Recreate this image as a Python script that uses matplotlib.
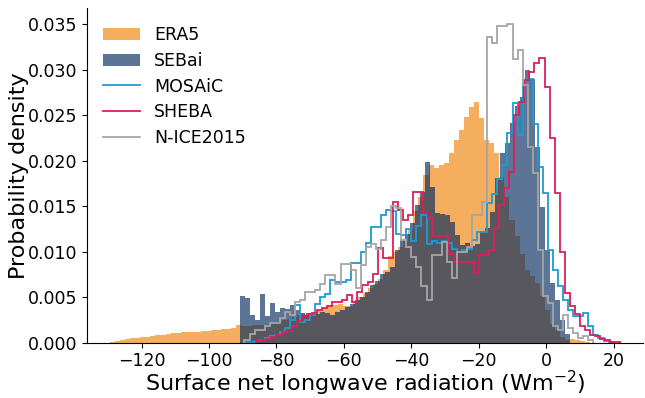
import numpy as np
import matplotlib
matplotlib.use("Agg")
import matplotlib.pyplot as plt

# ---------------- data (probability density per bin) ----------------
bin_width = 1.5

era5_start = -129.4
era5 = [0.0001, 0.0002, 0.0003, 0.0004, 0.0005, 0.00055, 0.0006, 0.00068, 0.00075, 0.00085,
        0.0009, 0.00098, 0.00105, 0.0011, 0.00115, 0.00118, 0.0012, 0.00122, 0.00128, 0.0013,
        0.00135, 0.00145, 0.0015, 0.00155, 0.0016, 0.0019, 0.0018, 0.0018, 0.0019, 0.0019,
        0.0020, 0.0021, 0.0022, 0.0023, 0.0025, 0.0026, 0.0028, 0.0030, 0.0031, 0.0033,
        0.0034, 0.0036, 0.0038, 0.0040, 0.0041, 0.0043, 0.0040, 0.0040, 0.0046, 0.0050,
        0.0055, 0.0060, 0.0065, 0.0070, 0.0080, 0.0095, 0.0100, 0.0105, 0.0112, 0.0125,
        0.0145, 0.0160, 0.0184, 0.0195, 0.0192, 0.0195, 0.0198, 0.0208, 0.0223, 0.0234,
        0.0248, 0.0259, 0.0265, 0.0247, 0.0223, 0.0220, 0.0208, 0.0182, 0.0160, 0.0135,
        0.0117, 0.0098, 0.0080, 0.0073, 0.0066, 0.0051, 0.0036, 0.0021, 0.0014, 0.0006,
        0.0003, 0.0004, 0.0003, 0.0002, 0.0001]

sebai_start = -90.8
sebai_width = 1.482
sebai = [0.0051, 0.0049, 0.0030, 0.0025, 0.0053, 0.0029, 0.0044, 0.0034, 0.0038, 0.0037,
         0.0041, 0.0036, 0.0033, 0.0030, 0.0032, 0.0031, 0.0034, 0.0033, 0.0030, 0.0034,
         0.0036, 0.0039, 0.0042, 0.0047, 0.0050, 0.0056, 0.0063, 0.0068, 0.0076, 0.0078,
         0.0083, 0.0102, 0.0113, 0.0120, 0.0131, 0.0151, 0.0166, 0.0199, 0.0171, 0.0142,
         0.0141, 0.0140, 0.0133, 0.0118, 0.0107, 0.0110, 0.0106, 0.0108, 0.0122, 0.0126,
         0.0144, 0.0181, 0.0208, 0.0220, 0.0241, 0.0260, 0.0270, 0.0300, 0.0290, 0.0215,
         0.0149, 0.0102, 0.0066, 0.0047, 0.0025, 0.0010]

mosaic_start = -89.5
mosaic = [0.0001, 0.0001, 0.0002, 0.0003, 0.0005, 0.0007, 0.0009, 0.0012, 0.0016, 0.0025,
          0.0041, 0.0023, 0.0025, 0.0030, 0.0042, 0.0050, 0.0054, 0.0069, 0.0067, 0.0067,
          0.0069, 0.0088, 0.0088, 0.0100, 0.0110, 0.0127, 0.0127, 0.0140, 0.0146, 0.0145,
          0.0120, 0.0118, 0.0125, 0.0112, 0.0128, 0.0140, 0.0108, 0.0112, 0.0110, 0.0112,
          0.0110, 0.0103, 0.0100, 0.0102, 0.0103, 0.0113, 0.0122, 0.0122, 0.0153, 0.0163,
          0.0180, 0.0195, 0.0230, 0.0263, 0.0228, 0.0285, 0.0290, 0.0240, 0.0193, 0.0165,
          0.0102, 0.0080, 0.0062, 0.0047, 0.0036, 0.0029, 0.0029, 0.0033, 0.0018, 0.0009,
          0.0005, 0.0002, 0.0001]

sheba_start = -86.0
sheba = [0.0002, 0.0003, 0.0004, 0.0006, 0.0009, 0.0012, 0.0014, 0.0018, 0.0024, 0.0029,
         0.0031, 0.0033, 0.0036, 0.0038, 0.0040, 0.0045, 0.0045, 0.0047, 0.0052, 0.0045,
         0.0056, 0.0063, 0.0067, 0.0076, 0.0104, 0.0093, 0.0093, 0.0155, 0.0146, 0.0135,
         0.0140, 0.0166, 0.0166, 0.0142, 0.0137, 0.0117, 0.0117, 0.0117, 0.0098, 0.0089,
         0.0089, 0.0089, 0.0089, 0.0077, 0.0096, 0.0096, 0.0102, 0.0126, 0.0151, 0.0170,
         0.0188, 0.0250, 0.0265, 0.0289, 0.0298, 0.0307, 0.0313, 0.0281, 0.0225, 0.0164,
         0.0100, 0.0055, 0.0040, 0.0031, 0.0018, 0.0014, 0.0008, 0.0007, 0.0004, 0.0003,
         0.0001, 0.00005]

nice_start = -89.5
nice = [0.0003, 0.0010, 0.0014, 0.0014, 0.0018, 0.0022, 0.0022, 0.0027, 0.0034, 0.0030,
        0.0045, 0.0047, 0.0056, 0.0056, 0.0058, 0.0065, 0.0074, 0.0074, 0.0064, 0.0087,
        0.0087, 0.0080, 0.0060, 0.0085, 0.0105, 0.0108, 0.0103, 0.0113, 0.0127, 0.0150,
        0.0148, 0.0113, 0.0105, 0.0094, 0.0083, 0.0062, 0.0047, 0.0096, 0.0096, 0.0111,
        0.0089, 0.0071, 0.0100, 0.0100, 0.0105, 0.0140, 0.0140, 0.0155, 0.0336, 0.0329,
        0.0348, 0.0348, 0.0350, 0.0312, 0.0322, 0.0283, 0.0215, 0.0186, 0.0102, 0.0051,
        0.0044, 0.0018, 0.0014, 0.0030, 0.0016, 0.0011, 0.0005, 0.0007, 0.0003]

labels = ["ERA5", "SEBai", "MOSAiC", "SHEBA", "N-ICE2015"]
xlabel = "Surface net longwave radiation (Wm$^{-2}$)"
ylabel = "Probability density"


def edges(start, n, w=bin_width):
    return start + w * np.arange(n + 1)


# ---------------- figure ----------------
fig = plt.figure(figsize=(6.45, 3.98), dpi=100)
ax = fig.add_axes([87 / 645, (398 - 342.7) / 398, (643 - 87) / 645, (342.7 - 8.3) / 398])

ax.stairs(era5, edges(era5_start, len(era5)), fill=True, color="#f4ae5e", label=labels[0])
ax.stairs(sebai, edges(sebai_start, len(sebai), sebai_width), fill=True,
          color="#04295e", alpha=0.65, linewidth=0, label=labels[1])
ax.stairs(mosaic, edges(mosaic_start, len(mosaic)), color="#1f9ad6", lw=1.3, label=labels[2])
ax.stairs(sheba, edges(sheba_start, len(sheba)), color="#dc1e5a", lw=1.3, label=labels[3])
ax.stairs(nice, edges(nice_start, len(nice)), color="#a6a6a6", lw=1.3, label=labels[4])

ax.set_xlim(-136.2, 28.7)
ax.set_ylim(0, 0.03675)
ax.set_xticks([-120, -100, -80, -60, -40, -20, 0, 20])
ax.set_yticks([0, 0.005, 0.010, 0.015, 0.020, 0.025, 0.030, 0.035])
ax.yaxis.set_major_formatter(matplotlib.ticker.FormatStrFormatter("%.3f"))
ax.tick_params(labelsize=12.5)
ax.set_xlabel(xlabel, fontsize=16, labelpad=-1)
ax.set_ylabel(ylabel, fontsize=16, labelpad=-1)
for s in ("top", "right"):
    ax.spines[s].set_visible(False)

ax.legend(loc="upper left", bbox_to_anchor=(0.016, 0.968), borderaxespad=0,
          frameon=False, fontsize=12.5, labelspacing=0.45, handlelength=2.15)

fig.savefig("out.png", dpi=100)
